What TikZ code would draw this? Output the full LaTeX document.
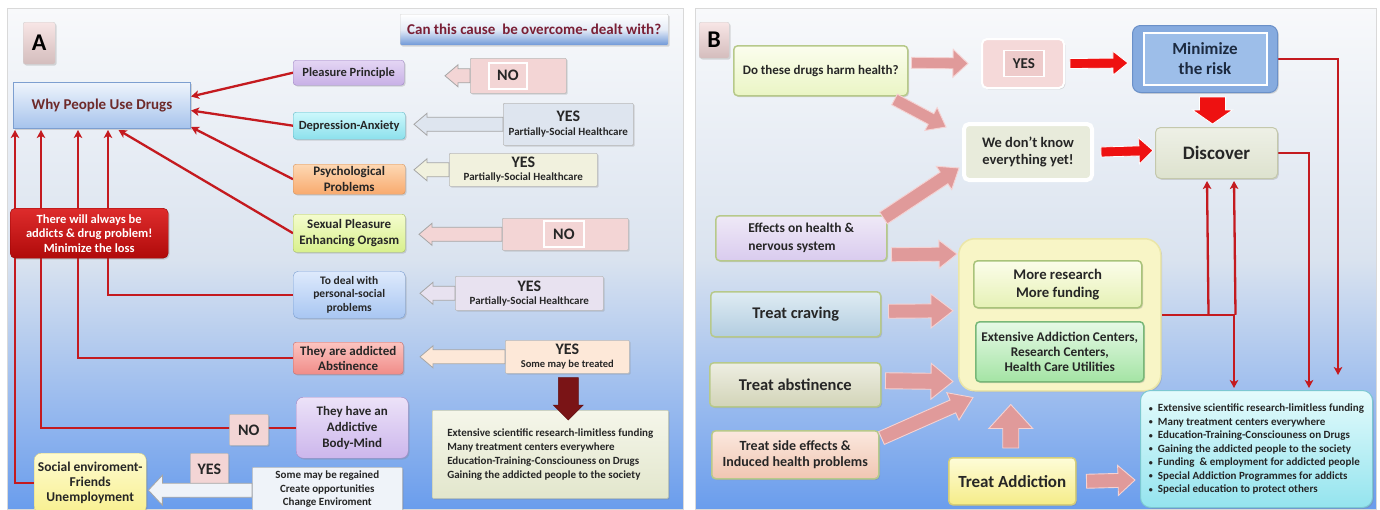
\documentclass[tikz,border=0pt]{standalone}
\usepackage{fontspec}
\setmainfont{Carlito}
\usetikzlibrary{calc,arrows.meta,shadows}
\pgfdeclarelayer{back}
\pgfdeclarelayer{lines}
\pgfsetlayers{back,lines,main}
\newcommand\myfs[2]{\fontsize{#1}{#2}\selectfont\bfseries}
\newcommand\bul{\makebox[9pt][l]{\raisebox{0.5pt}{\fontsize{8}{8}\selectfont •}}}
\newcommand\barrow[6][]{%
  \coordinate (ba-s) at (#2);
  \coordinate (ba-t) at (#3);
  \coordinate (ba-h) at ($(ba-t)!#6!(ba-s)$);
  \filldraw[#1] ($(ba-s)!#4!90:(ba-t)$) -- ($(ba-h)!#4!90:(ba-t)$) -- ($(ba-h)!#5!90:(ba-t)$) -- (ba-t) -- ($(ba-h)!#5!-90:(ba-t)$) -- ($(ba-h)!#4!-90:(ba-t)$) -- ($(ba-s)!#4!-90:(ba-t)$) -- cycle;}
\definecolor{lnred}{HTML}{C41A1F}
\definecolor{txt}{HTML}{262626}
\definecolor{mrn}{HTML}{7A1F35}
\definecolor{mrnb}{HTML}{6E2A2A}
\definecolor{pnlT}{HTML}{F8F9FB}
\definecolor{pnlM}{HTML}{DAE3EF}
\definecolor{pnlB}{HTML}{6A9DED}
\definecolor{noF}{HTML}{F3D5D5}
\definecolor{pinkar}{HTML}{E09A9A}
\definecolor{pinkbd}{HTML}{F5D2D2}
\definecolor{redar}{HTML}{EE1111}
\definecolor{dkred}{HTML}{7A1416}
\definecolor{lftbd}{HTML}{B7C98A}
\tikzset{
  bx/.style={draw, rounded corners=3pt, align=center, inner sep=1pt, anchor=north west, text=txt,
    drop shadow={opacity=0.28, shadow xshift=1.3pt, shadow yshift=-1.3pt}},
  plain/.style={draw, align=center, inner sep=1pt, text=txt},
  wh/.style 2 args={minimum width=#1pt, minimum height=#2pt},
  redln/.style={draw=lnred, line width=2.3pt, -{Stealth[length=8pt,width=8.5pt,inset=2pt]}},
  ablk/.style={draw=gray!70, line width=0.8pt},
  pblk/.style={fill=pinkar, draw=pinkbd, line width=0.9pt},
  rblk/.style={fill=redar, draw=white, line width=0.8pt},
  anbox/.style={bx, rounded corners=1pt, draw=gray!55, line width=0.6pt},
  lbl/.style={bx, rounded corners=2pt, top color=white!40!noF, bottom color=noF!85!black!90, draw=gray!35, font=\myfs{24}{26}, text=black},
  lft/.style={bx, rounded corners=4pt, line width=1.5pt, draw=lftbd},
}
\begin{document}
\begin{tikzpicture}[x=1pt,y=-1pt]
\useasboundingbox (0,0) rectangle (1380,509);
\begin{pgfonlayer}{back}
\fill[white] (0,0) rectangle (1380,509);
\shade[top color=pnlT, bottom color=pnlB, middle color=pnlM] (7,8) rectangle (683,509);
\draw[gray!30] (7,8) rectangle (683,509);
\shade[top color=pnlT, bottom color=pnlB, middle color=pnlM] (695,8) rectangle (1376,509);
\draw[gray!30] (695,8) rectangle (1376,509);
\end{pgfonlayer}

% ================= Panel A =================
\node[lbl, wh={32}{42}] (labA) at (23,22) {A};
\node[bx, wh={268}{31}, rounded corners=1pt, top color=white, bottom color={rgb,255:red,111;green,152;blue,216}, middle color={rgb,255:red,228;green,235;blue,246}, draw=gray!35, font=\myfs{15}{17}, text=mrn] (can) at (400,14) {Can this cause~ be overcome- dealt with?};
\node[bx, wh={177}{46}, rounded corners=0pt, top color={rgb,255:red,238;green,244;blue,252}, bottom color={rgb,255:red,166;green,195;blue,236}, draw={rgb,255:red,125;green,159;blue,208}, line width=1pt, font=\myfs{15}{17}, text=mrnb] (why) at (13,82) {Why People Use Drugs};

\node[bx, wh={111}{25}, top color={rgb,255:red,228;green,214;blue,244}, bottom color={rgb,255:red,200;green,176;blue,230}, draw={rgb,255:red,160;green,136;blue,196}, font=\myfs{12.5}{15}] (pp) at (293,60) {Pleasure Principle};
\node[bx, wh={112}{27}, top color={rgb,255:red,205;green,248;blue,252}, bottom color={rgb,255:red,140;green,224;blue,236}, draw={rgb,255:red,96;green,184;blue,200}, font=\myfs{12.5}{15}] (da) at (293,112) {Depression-Anxiety};
\node[bx, wh={112}{30}, top color={rgb,255:red,253;green,216;blue,180}, bottom color={rgb,255:red,248;green,170;blue,110}, draw={rgb,255:red,214;green,146;blue,90}, font=\myfs{13}{15.5}] (psy) at (293,164) {Psychological\\Problems};
\node[bx, wh={112}{38}, top color={rgb,255:red,244;green,252;blue,206}, bottom color={rgb,255:red,216;green,240;blue,140}, draw={rgb,255:red,168;green,192;blue,96}, font=\myfs{13}{16.5}] (sex) at (293,214) {Sexual Pleasure\\Enhancing Orgasm};
\node[bx, wh={112}{47}, rounded corners=5pt, top color={rgb,255:red,222;green,234;blue,252}, bottom color={rgb,255:red,168;green,198;blue,242}, draw={rgb,255:red,123;green,159;blue,210}, font=\myfs{11.5}{13.3}] (pers) at (293,271) {To deal with\\personal-social\\problems};
\node[bx, wh={110}{32}, top color={rgb,255:red,252;green,196;blue,192}, bottom color={rgb,255:red,240;green,140;blue,136}, draw={rgb,255:red,200;green,106;blue,102}, font=\myfs{13}{15.3}] (abst) at (293,342) {They are addicted\\Abstinence};
\node[bx, wh={112}{61}, rounded corners=7pt, top color={rgb,255:red,236;green,226;blue,248}, bottom color={rgb,255:red,204;green,182;blue,236}, draw={rgb,255:red,160;green,136;blue,196}, font=\myfs{13}{16}] (body) at (296,397) {They have an\\Addictive\\Body-Mind};

\node[anbox, wh={96}{35}, fill=noF] (no1) at (470,58) {};
\node[plain, wh={38}{26}, draw=white, line width=1.8pt, fill=noF, font=\myfs{16}{18}, anchor=west] (no1t) at ($(no1.west)+(18,0)$) {NO};
\node[anbox, wh={130}{42}, fill={rgb,255:red,222;green,229;blue,239}, font=\myfs{11}{13}] (yes2) at (503,103) {{\fontsize{16}{16}\selectfont YES}\\[1pt]Partially-Social Healthcare};
\node[anbox, wh={148}{33}, fill={rgb,255:red,241;green,241;blue,222}, font=\myfs{11}{13}] (yes3) at (449,153) {{\fontsize{16}{16}\selectfont YES}\\[0pt]Partially-Social Healthcare};
\node[anbox, wh={126}{32}, fill=noF] (no4) at (502,218) {};
\node[plain, wh={40}{26}, draw=white, line width=1.8pt, fill=noF, font=\myfs{16}{18}, anchor=west] (no4t) at ($(no4.west)+(41,0)$) {NO};
\node[anbox, wh={148}{34}, fill={rgb,255:red,232;green,226;blue,240}, font=\myfs{11}{13}] (yes5) at (455,276) {{\fontsize{16}{16}\selectfont YES}\\[0pt]Partially-Social Healthcare};
\node[anbox, wh={124}{33}, fill={rgb,255:red,253;green,232;blue,216}, font=\myfs{10.5}{13}] (yes6) at (505,340) {{\fontsize{16}{16}\selectfont YES}\\[0pt]Some may be treated};
\node[anbox, wh={236}{88}, top color={rgb,255:red,245;green,246;blue,234}, bottom color={rgb,255:red,226;green,230;blue,204}, draw={rgb,255:red,200;green,204;blue,176}, align=left, font=\myfs{11}{14}] (ext) at (432,410) {Extensive scientific research-limitless funding\\Many treatment centers everywhere\\Education-Training-Consciouness on Drugs\\Gaining the addicted people to the society};

\node[anbox, wh={39}{31}, fill=noF, font=\myfs{16}{18}] (noA) at (229,414) {NO};
\node[anbox, wh={38}{32}, fill=noF, font=\myfs{16}{18}] (yesA) at (190,453) {YES};
\node[anbox, wh={150}{44}, fill={rgb,255:red,239;green,243;blue,249}, font=\myfs{11}{13.3}] (regain) at (252,467) {Some may be regained\\Create opportunities\\Change Enviroment};
\node[bx, wh={112}{60}, rounded corners=7pt, top color={rgb,255:red,254;green,251;blue,208}, bottom color={rgb,255:red,248;green,240;blue,144}, draw={rgb,255:red,216;green,207;blue,128}, font=\myfs{13.5}{15}] (social) at (34,453) {Social enviroment-\\Friends\\Unemployment};
\node[bx, wh={158}{50}, rounded corners=5pt, top color={rgb,255:red,222;green,44;blue,44}, bottom color={rgb,255:red,176;green,10;blue,10}, draw={rgb,255:red,150;green,0;blue,0}, text=white, font=\myfs{12.5}{14.5}] (red) at (10,208) {There will always be\\addicts \& drug problem!\\Minimize the loss};

\begin{pgfonlayer}{lines}
\draw[redln] (pp.west) -- ($(why.east)+(0,-9)$);
\draw[redln] (da.west) -- ($(why.east)+(0,5)$);
\draw[redln] (psy.west) -- ($(why.south east)+(0,-2)$);
\draw[redln] (sex.west) -- ($(why.south)+(16.5,1)$);
\draw[redln] (pers.west) -| ($(why.south west)+(95,1)$);
\draw[redln] (abst.west) -| ($(why.south west)+(65,1)$);
\draw[redln] (body.west) -| ($(why.south west)+(28,1)$);
\draw[redln] (social.west) -| ($(why.south west)+(2,1)$);
\end{pgfonlayer}

\barrow[ablk, fill=noF]{no1.west}{$(no1.west)+(-25,0)$}{7pt}{11pt}{13pt}
\barrow[ablk, fill={rgb,255:red,222;green,229;blue,239}]{yes2.west}{$(yes2.west)+(-89,0)$}{7pt}{11pt}{13pt}
\barrow[ablk, fill={rgb,255:red,241;green,241;blue,222}]{yes3.west}{$(yes3.west)+(-35,0)$}{7pt}{11pt}{13pt}
\barrow[ablk, fill=noF]{no4.west}{$(no4.west)+(-83,0)$}{7pt}{11pt}{13pt}
\barrow[ablk, fill={rgb,255:red,232;green,226;blue,240}]{yes5.west}{$(yes5.west)+(-35,0)$}{7pt}{11pt}{13pt}
\barrow[ablk, fill={rgb,255:red,253;green,232;blue,216}]{yes6.west}{$(yes6.west)+(-85,0)$}{7pt}{11pt}{13pt}
\barrow[ablk, fill={rgb,255:red,239;green,243;blue,249}]{$(regain.west)+(0,1)$}{$(social.east)+(2,7)$}{7pt}{15pt}{14pt}
\barrow[fill=dkred, draw=dkred!80!black, line width=0.5pt]{$(yes6.south)+(1,4)$}{$(ext.north)+(18,10)$}{10pt}{15pt}{15pt}

% ================= Panel B =================
\node[lbl, wh={30}{36}] (labB) at (699,22) {B};
\node[lft, wh={174}{50}, top color={rgb,255:red,251;green,253;blue,238}, bottom color={rgb,255:red,234;green,245;blue,196}, font=\myfs{13}{15}] (harm) at (733,45) {Do these drugs harm health?};
\node[bx, wh={82}{49}, rounded corners=5pt, fill={rgb,255:red,245;green,217;blue,217}, draw=white, line width=2pt] (yesB) at (981,38) {};
\node[plain, wh={40}{26}, draw=white, line width=1.6pt, fill={rgb,255:red,238;green,203;blue,203}, font=\myfs{15}{17}, anchor=west] (yesBt) at ($(yesB.west)+(22,0)$) {YES};
\node[bx, wh={145}{67}, rounded corners=8pt, fill={rgb,255:red,134;green,171;blue,223}, draw={rgb,255:red,106;green,144;blue,200}, line width=1pt] (minrisk) at (1132,25) {};
\node[plain, wh={123}{52}, draw=white, line width=2pt, fill={rgb,255:red,157;green,190;blue,233}, font=\myfs{17}{20}, text={rgb,255:red,28;green,42;blue,64}] (minriskt) at (minrisk.center) {Minimize\\the risk};
\node[bx, wh={122}{51}, rounded corners=5pt, top color={rgb,255:red,238;green,240;blue,230}, bottom color={rgb,255:red,221;green,226;blue,206}, draw={rgb,255:red,196;green,200;blue,172}, line width=1pt, font=\myfs{19}{21}] (discover) at (1155,127) {Discover};
\node[bx, wh={128}{56}, rounded corners=5pt, fill={rgb,255:red,232;green,235;blue,219}, draw=white, line width=4pt, font=\myfs{14.5}{17.7}] (know) at (962,122) {We don't know\\everything yet!};
\node[lft, wh={171}{45}, top color={rgb,255:red,239;green,233;blue,247}, bottom color={rgb,255:red,217;green,203;blue,238}, font=\myfs{13.5}{18}, align=left] (effects) at (715,215) {Effects on health \&\\nervous system};
\node[bx, wh={202}{152}, rounded corners=16pt, fill={rgb,255:red,248;green,245;blue,198}, draw={rgb,255:red,235;green,230;blue,168}, line width=1.5pt] (container) at (958,238) {};
\node[lft, wh={168}{47}, top color={rgb,255:red,252;green,253;blue,234}, bottom color={rgb,255:red,229;green,241;blue,181}, draw={rgb,255:red,169;green,195;blue,122}, font=\myfs{14.7}{18.3}] (more) at (973,260) {More research\\More funding};
\node[lft, wh={168}{60}, top color={rgb,255:red,230;green,249;blue,230}, bottom color={rgb,255:red,164;green,228;blue,164}, draw={rgb,255:red,120;green,184;blue,120}, font=\myfs{13.3}{15}] (centers) at (975,321) {Extensive Addiction Centers,\\Research Centers,\\Health Care Utilities};
\node[lft, wh={170}{45}, top color={rgb,255:red,223;green,236;blue,243}, bottom color={rgb,255:red,178;green,205;blue,224}, font=\myfs{16.3}{18}] (craving) at (710,291) {Treat craving};
\node[lft, wh={171}{44}, top color={rgb,255:red,238;green,238;blue,226}, bottom color={rgb,255:red,210;green,212;blue,184}, font=\myfs{16.5}{18}] (abstB) at (709,362) {Treat abstinence};
\node[lft, wh={167}{48}, top color={rgb,255:red,251;green,232;blue,222}, bottom color={rgb,255:red,240;green,198;blue,178}, font=\myfs{14}{16.7}] (side) at (711,430) {Treat side effects \&\\Induced health problems};
\node[lft, wh={127}{47}, top color={rgb,255:red,254;green,252;blue,216}, bottom color={rgb,255:red,245;green,236;blue,136}, draw={rgb,255:red,214;green,206;blue,120}, font=\myfs{17}{19}] (treat) at (948,457) {Treat Addiction};
\node[bx, wh={232}{117}, rounded corners=10pt, top color={rgb,255:red,228;green,251;blue,252}, bottom color={rgb,255:red,148;green,228;blue,238}, draw={rgb,255:red,124;green,200;blue,210}, line width=1pt, align=left, font=\myfs{11}{13.5}] (bullets) at (1140,390) {\bul Extensive scientific research-limitless funding\\\bul Many treatment centers everywhere\\\bul Education-Training-Consciouness on Drugs\\\bul Gaining the addicted people to the society\\\bul Funding~ \& employment for addicted people\\\bul Special Addiction Programmes for addicts\\\bul Special education to protect others};

\begin{pgfonlayer}{lines}
\draw[redln] (minrisk.east) -| ($(bullets.north east)+(-35,-15)$);
\draw[redln] (discover.east) -| ($(bullets.north east)+(-64,-2)$);
\draw[redln] (container.east) -| ($(bullets.north west)+(94,-2)$);
\draw[redln] ($(container.east)+(47,0)$) -- ($(discover.south west)+(52,2)$);
\draw[redln] ($(container.east)+(74,0)$) -- ($(discover.south west)+(79,2)$);
\end{pgfonlayer}

\barrow[pblk]{$(harm.east)+(3,-8)$}{$(yesB.west)+(-13,0)$}{5.5pt}{14pt}{15pt}
\barrow[pblk]{$(harm.south east)+(-14,3)$}{$(know.north west)+(-16,5)$}{6pt}{13pt}{17pt}
\barrow[pblk]{$(effects.north east)+(-4,3)$}{$(know.south west)+(-3,-14)$}{7pt}{14pt}{18pt}
\barrow[pblk]{$(effects.east)+(4,16.5)$}{$(container.north west)+(-1,16)$}{7pt}{14pt}{18pt}
\barrow[pblk]{$(craving.east)+(7,-3)$}{$(container.west)+(-5,-4)$}{7pt}{17pt}{22pt}
\barrow[pblk]{$(abstB.east)+(4,-4)$}{$(container.south west)+(-5,-10)$}{8pt}{18pt}{22pt}
\barrow[pblk]{$(side.north east)+(2,8)$}{$(container.south west)+(15,6)$}{7pt}{15pt}{22pt}
\barrow[pblk]{$(treat.north)+(-1.5,-9)$}{$(container.south)+(-49,13)$}{8pt}{22pt}{24pt}
\barrow[pblk]{$(treat.east)+(10,0)$}{$(bullets.west)+(-5,31)$}{7pt}{15pt}{17pt}
\barrow[rblk]{$(yesB.east)+(5,0)$}{$(minrisk.west)+(-4,4)$}{5pt}{12pt}{15pt}
\barrow[rblk]{$(know.east)+(7,0)$}{$(discover.west)+(-2,-2.5)$}{5pt}{13pt}{14pt}
\barrow[rblk]{$(minrisk.south)+(7.5,4)$}{$(discover.north)+(-4,-3)$}{13pt}{20pt}{14pt}
\end{tikzpicture}
\end{document}
